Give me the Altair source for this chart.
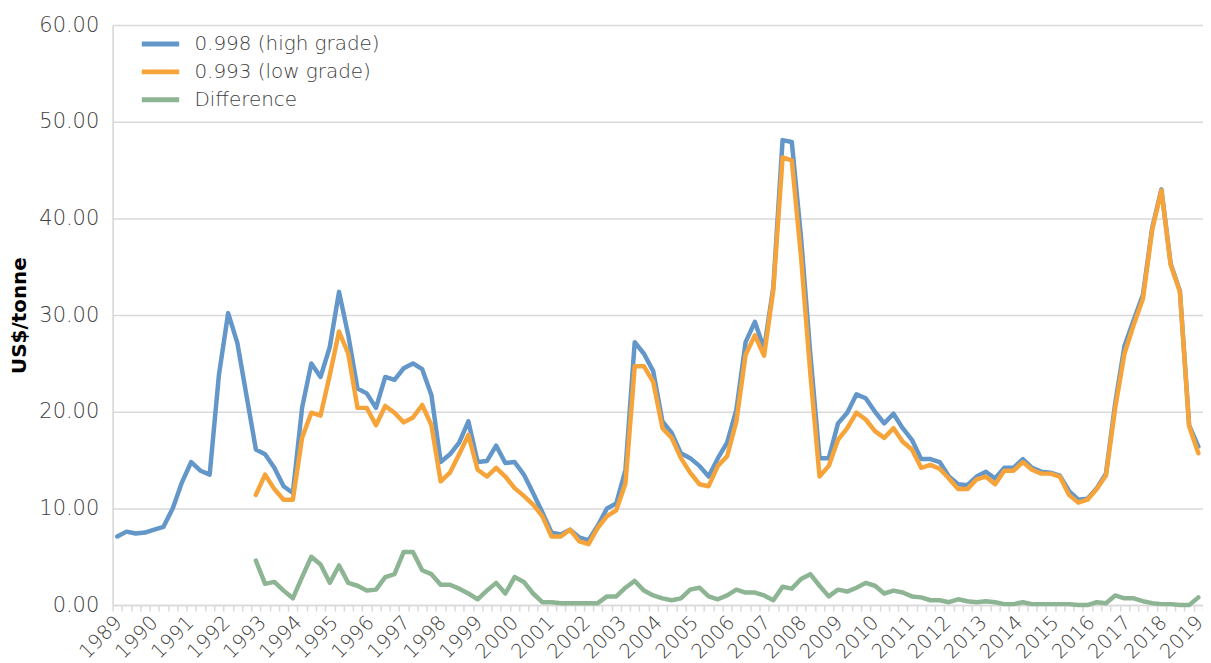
import altair as alt
import pandas as pd

# ---- data ----
S_HIGH = "0.998 (high grade)"
S_LOW = "0.993 (low grade)"
S_DIFF = "Difference"

years = list(range(1989, 2020))

high = [7.1, 7.6, 7.4, 7.5, 7.8, 8.1, 10.0, 12.7, 14.8, 13.9,
        13.5, 23.8, 30.2, 27.1, 21.6, 16.1, 15.6, 14.2, 12.3, 11.6,
        20.4, 25.0, 23.6, 26.7, 32.4, 27.9, 22.4, 21.9, 20.4, 23.6,
        23.3, 24.5, 25.0, 24.4, 21.7, 14.8, 15.6, 16.8, 19.0, 14.8,
        14.9, 16.5, 14.7, 14.8, 13.5, 11.6, 9.6, 7.5, 7.3, 7.8,
        7.0, 6.7, 8.2, 10.0, 10.5, 14.0, 27.2, 26.0, 24.2, 19.0,
        17.8, 15.7, 15.2, 14.4, 13.3, 15.2, 16.8, 20.2, 27.2, 29.3,
        26.5, 32.9, 48.1, 47.9, 38.0, 26.0, 15.2, 15.2, 18.8, 19.9,
        21.8, 21.4, 20.0, 18.8, 19.8, 18.3, 17.1, 15.1, 15.1, 14.8,
        13.3, 12.5, 12.4, 13.3, 13.8, 13.1, 14.2, 14.2, 15.1, 14.2,
        13.8, 13.7, 13.4, 11.8, 10.9, 11.0, 12.1, 13.6, 20.9, 26.8,
        29.5, 32.1, 39.0, 43.0, 35.3, 32.5, 18.6, 16.4]

low = [None] * 15 + [
        11.4, 13.5, 12.0, 10.9, 10.9,
        17.3, 19.9, 19.6, 23.8, 28.3, 26.0, 20.4, 20.4, 18.6, 20.6,
        19.9, 18.9, 19.4, 20.7, 18.6, 12.8, 13.7, 15.6, 17.6, 14.0,
        13.3, 14.2, 13.3, 12.1, 11.3, 10.4, 9.2, 7.1, 7.1, 7.8,
        6.6, 6.3, 8.0, 9.2, 9.8, 12.6, 24.7, 24.7, 23.1, 18.3,
        17.3, 15.2, 13.7, 12.5, 12.3, 14.4, 15.4, 19.0, 25.9, 27.9,
        25.8, 32.6, 46.3, 46.0, 36.0, 24.0, 13.3, 14.4, 17.1, 18.3,
        19.9, 19.2, 18.0, 17.3, 18.3, 16.9, 16.1, 14.2, 14.5, 14.1,
        13.1, 12.0, 12.0, 13.0, 13.3, 12.5, 13.9, 13.9, 14.8, 14.0,
        13.6, 13.6, 13.3, 11.4, 10.6, 10.9, 12.0, 13.4, 20.4, 26.0,
        29.0, 31.7, 38.8, 42.9, 35.2, 32.4, 18.5, 15.7]

diff = [None] * 15 + [
        4.6, 2.2, 2.4, 1.5, 0.7,
        2.9, 5.0, 4.2, 2.3, 4.1, 2.3, 2.0, 1.5, 1.6, 2.9,
        3.2, 5.5, 5.5, 3.6, 3.2, 2.1, 2.1, 1.7, 1.2, 0.6,
        1.5, 2.3, 1.2, 2.9, 2.4, 1.2, 0.3, 0.3, 0.2, 0.2,
        0.2, 0.2, 0.2, 0.9, 0.9, 1.8, 2.5, 1.5, 1.0, 0.7,
        0.5, 0.7, 1.6, 1.8, 0.9, 0.6, 1.0, 1.6, 1.3, 1.3,
        1.0, 0.5, 1.9, 1.7, 2.7, 3.2, 2.0, 0.9, 1.6, 1.4,
        1.8, 2.3, 2.0, 1.2, 1.5, 1.3, 0.9, 0.8, 0.5, 0.5,
        0.3, 0.6, 0.4, 0.3, 0.4, 0.3, 0.1, 0.1, 0.3, 0.1,
        0.1, 0.1, 0.1, 0.1, 0.0, 0.0, 0.3, 0.2, 1.0, 0.7,
        0.7, 0.4, 0.2, 0.1, 0.1, 0.0, 0.0, 0.8]

y_ticks = [0, 10, 20, 30, 40, 50, 60]
series_names = [S_HIGH, S_LOW, S_DIFF]
series_colors = ["#6397C9", "#F6A43A", "#8DB594"]

# ---- build table ----
N = len(high)
positions = [i + 0.5 for i in range(N)]          # points sit between category ticks
rows = []
for name, vals in zip(series_names, [high, low, diff]):
    for p, v in zip(positions, vals):
        if v is not None:
            rows.append({"pos": p, "value": v, "series": name})
df = pd.DataFrame(rows)

tick_vals = list(range(N + 1))
step = (N - 1) / (len(years) - 1)
label_vals = [0.5 + k * step for k in range(len(years))]
label_expr = "format(%d + round((datum.value - 0.5) / %.6f), 'd')" % (years[0], step)

FONT = "DejaVu Sans"
TXT = "#404040"
GRID = "#d9d9d9"

xscale = alt.Scale(domain=[0, N], nice=False, zero=False)
y_enc = alt.Y(
    "value:Q",
    scale=alt.Scale(domain=[0, 60], nice=False),
    axis=alt.Axis(
        values=y_ticks, format=".2f", title="US$/tonne", titleFontSize=20,
        titleFontWeight="bold", titleColor="#000000", titleFont=FONT, titlePadding=9,
        labelFont=FONT, labelFontSize=21, labelColor=TXT, labelFontWeight=300,
        labelPadding=14, ticks=False, grid=True, gridColor=GRID, gridWidth=1.5,
        domain=True, domainColor=GRID, domainWidth=1.5,
    ),
)

lines = alt.Chart(df).mark_line(strokeWidth=4.5, strokeJoin="round", strokeCap="round").encode(
    x=alt.X(
        "pos:Q", scale=xscale,
        axis=alt.Axis(values=tick_vals, labels=False, ticks=True, tickSize=6, tickColor=GRID,
                      tickWidth=1.5, domain=True, domainColor=GRID, domainWidth=1.5,
                      grid=False, title=None, orient="bottom"),
    ),
    y=y_enc,
    color=alt.Color(
        "series:N",
        scale=alt.Scale(domain=series_names, range=series_colors),
        legend=alt.Legend(
            title=None, orient="none", legendX=38, legendY=9,
            symbolType="M-2.5,0H2.5", symbolSize=225, symbolStrokeWidth=5,
            labelFont=FONT, labelFontSize=20, labelColor=TXT, labelFontWeight=300,
            labelOffset=24, labelLimit=0, rowPadding=8, padding=0,
        ),
    ),
)

labels = alt.Chart(df).mark_line(opacity=0).encode(
    x=alt.X(
        "pos:Q", scale=xscale,
        axis=alt.Axis(values=label_vals, labelExpr=label_expr, ticks=False, domain=False,
                      grid=False, title=None, orient="bottom", labelAngle=-45,
                      labelAlign="right", labelBaseline="middle", labelFont=FONT,
                      labelFontSize=20, labelFontWeight=300, labelColor=TXT,
                      labelPadding=14, labelOffset=1, labelOverlap=False,
                      labelBound=False, labelFlush=False),
    ),
    y=y_enc,
)

chart = (
    alt.layer(lines, labels)
    .resolve_axis(x="independent")
    .properties(
        width=1094, height=582,
        autosize=alt.AutoSizeParams(type="none"),
        padding={"left": 105, "top": 16, "right": 0, "bottom": 57},
    )
    .configure_view(stroke=None)
    .configure(font=FONT)
)

chart.save("out.html", embed_options={"renderer": "svg", "actions": False})
